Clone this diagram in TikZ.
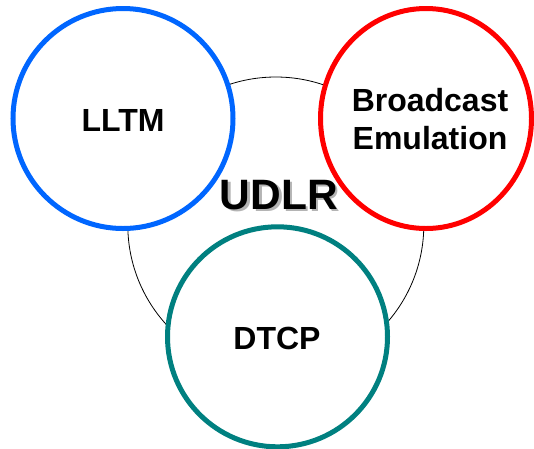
\documentclass[tikz,border=0pt]{standalone}
\usepackage{fontspec}
\setmainfont{Liberation Sans}
\definecolor{ringblue}{HTML}{0066FF}
\definecolor{ringred}{HTML}{FF0000}
\definecolor{ringteal}{HTML}{008080}
\definecolor{shadowgray}{HTML}{B4B4B4}
% bold text with a soft grey drop shadow offset down and right
\newcommand{\shadowtext}[1]{\rlap{\hspace{2.5pt}\raisebox{-2.5pt}{\textcolor{shadowgray}{#1}}}#1}
\begin{document}
\begin{tikzpicture}[x=1pt,y=-1pt,
  ring/.style={line width=5pt, fill=white},
  label/.style={inner sep=0pt, font=\fontsize{32}{38.5}\selectfont\bfseries},
  title/.style={inner sep=0pt, font=\fontsize{42.5}{50}\selectfont\bfseries}]
  \useasboundingbox (0,0) rectangle (534,448);
  % thin enclosing circle behind the three rings
  \draw[line width=0.8pt] (275.8,225) circle [radius=148pt];
  % the three rings
  \draw[ring, draw=ringblue] (123,118.5) circle [radius=110pt];
  \draw[ring, draw=ringred] (426,118.5) ellipse [x radius=105.5pt, y radius=110pt];
  \draw[ring, draw=ringteal] (277.5,336.8) circle [radius=110pt];
  % ring labels
  \node[label, anchor=base] (lltm) at (123,131) {LLTM};
  \node[label, anchor=center, align=center] (bcast) at (430,119.3) {Broadcast\\Emulation};
  \node[label, anchor=base] (dtcp) at (277,349) {DTCP};
  % central title
  \node[title, anchor=base] (udlr) at (279,209) {\shadowtext{UDLR}};
\end{tikzpicture}
\end{document}
